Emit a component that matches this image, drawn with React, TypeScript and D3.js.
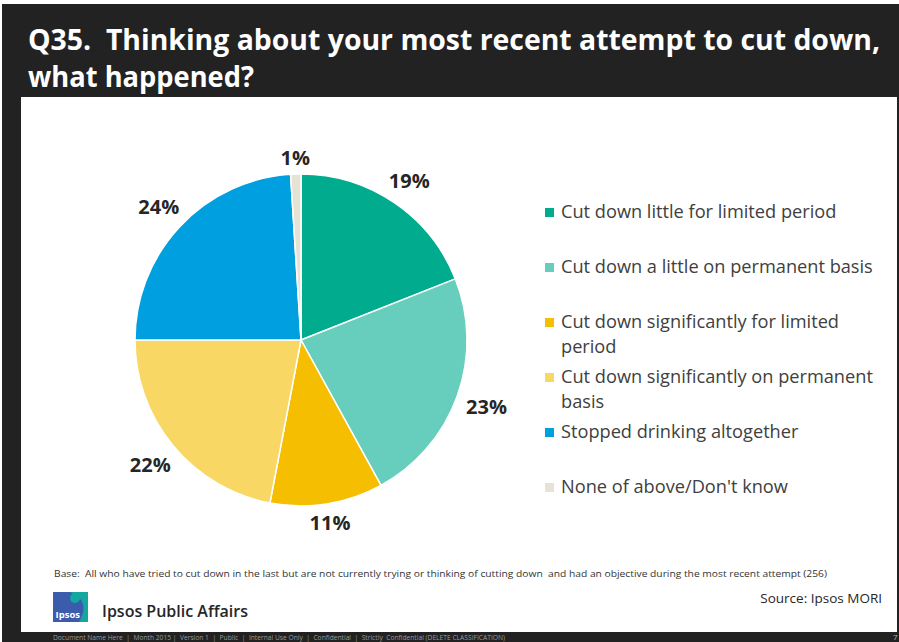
import React from "react";
import * as d3 from "d3";

const categories = [
  "Cut down little for limited period",
  "Cut down a little on permanent basis",
  "Cut down significantly for limited period",
  "Cut down significantly on permanent basis",
  "Stopped drinking altogether",
  "None of above/Don't know",
];
const values = [19, 23, 11, 22, 24, 1];
const sliceColors = ["#00AB8E", "#67CDBC", "#F5BE00", "#F8D765", "#009FDF", "#E6E3D4"];
const legendLines = [
  ["Cut down little for limited period"],
  ["Cut down a little on permanent basis"],
  ["Cut down significantly for limited", "period"],
  ["Cut down significantly on permanent", "basis"],
  ["Stopped drinking altogether"],
  ["None of above/Don't know"],
];
const titleLines = [
  "Q35.  Thinking about your most recent attempt to cut down,",
  "what happened?",
];
const baseText =
  "Base:  All who have tried to cut down in the last but are not currently trying or thinking of cutting down  and had an objective during the most recent attempt (256)";
const footerText =
  "Document Name Here  |  Month 2015 |  Version 1  |  Public  |  Internal Use Only  |  Confidential  |  Strictly  Confidential (DELETE CLASSIFICATION)";

const W = 899;
const H = 642;
const FONT = "'Open Sans', 'Noto Sans', sans-serif";

export default function App() {
  const cx = 301;
  const cy = 340;
  const r = 166;
  const pie = d3.pie<number>().sort(null).value((d) => d)(values);
  const arc = d3.arc<d3.PieArcDatum<number>>().innerRadius(0).outerRadius(r);

  const labelW = (v: number) => (v >= 10 ? 42 : 30);
  const labelH = 14;
  const gap = 9;

  const legendY = d3
    .scalePoint<number>()
    .domain(d3.range(categories.length))
    .range([212, 487]);

  return (
    <svg
      width={W}
      height={H}
      style={{ position: "absolute", left: 0, top: 0, display: "block" }}
      fontFamily={FONT}
    >
      <rect x={0} y={0} width={W} height={H} fill="#ffffff" />
      <rect x={2} y={4} width={W - 2} height={H - 4} fill="#222222" />
      <rect x={21} y={97} width={876} height={535} fill="#ffffff" />

      {titleLines.map((t, i) => (
        <text
          key={i}
          x={28}
          y={50 + i * 37}
          fill="#ffffff"
          fontSize={28}
          fontWeight={700}
          style={{ whiteSpace: "pre" }}
          textLength={i === 0 ? 852 : 226}
          lengthAdjust="spacingAndGlyphs"
        >
          {t}
        </text>
      ))}

      <g transform={`translate(${cx},${cy})`}>
        {pie.map((d, i) => (
          <path key={i} d={arc(d) || ""} fill={sliceColors[i]} stroke="#ffffff" strokeWidth={1.5} strokeLinejoin="round" />
        ))}
        {pie.map((d, i) => {
          const a = (d.startAngle + d.endAngle) / 2;
          const s = Math.sin(a);
          const c = Math.cos(a);
          const dist = r + gap + Math.abs(s) * labelW(d.value) / 2 + Math.abs(c) * labelH / 2;
          return (
            <text
              key={i}
              x={s * dist}
              y={-c * dist}
              dy="0.36em"
              textAnchor="middle"
              fontSize={20}
              fontWeight={700}
              fill="#262626"
            >
              {d.value}%
            </text>
          );
        })}
      </g>

      {categories.map((c, i) => {
        const y = legendY(i) as number;
        return (
          <g key={c}>
            <rect x={545} y={y - 4} width={9} height={9} fill={sliceColors[i]} />
            {legendLines[i].map((ln, j) => (
              <text key={j} x={561} y={y + 6 + j * 25} fontSize={18.2} fill="#404040">
                {ln}
              </text>
            ))}
          </g>
        );
      })}

      <text x={54} y={577} fontSize={9.5} fill="#333333" style={{ whiteSpace: "pre" }} textLength={773} lengthAdjust="spacingAndGlyphs">
        {baseText}
      </text>

      <g>
        <rect x={53} y={592} width={35} height={30} fill="#3B5CAD" />
        <path d="M70,592 L88,592 L88,622 L79,622 C84,614 85,606 81,600 C78,596 74,594 70,592 Z" fill="#14A7A0" />
        <circle cx={75} cy={598} r={5} fill="#14A7A0" />
        <text x={55.5} y={618} fontSize={9.5} fontWeight={700} fill="#ffffff">
          Ipsos
        </text>
      </g>
      <text x={102} y={617} fontSize={16} fontWeight={600} fill="#262626">
        Ipsos Public Affairs
      </text>

      <text x={882} y={603} textAnchor="end" fontSize={13.5} fill="#262626">
        Source: Ipsos MORI
      </text>

      <text x={53} y={640} fontSize={6.5} fill="#9a9a9a" style={{ whiteSpace: "pre" }} textLength={452} lengthAdjust="spacingAndGlyphs">
        {footerText}
      </text>
      <text x={893} y={640} fontSize={8} fill="#bbbbbb">
        7
      </text>
    </svg>
  );
}
